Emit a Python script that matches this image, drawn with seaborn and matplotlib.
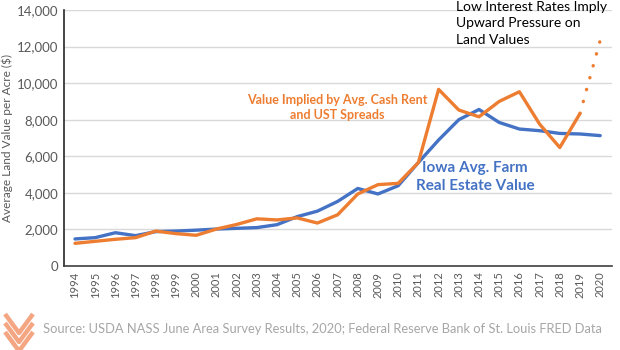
import numpy as np
import pandas as pd
import matplotlib
matplotlib.use("Agg")
import matplotlib.pyplot as plt
import seaborn as sns
from matplotlib.lines import Line2D

# data
years = list(range(1994, 2021))
iowa_value = [1480, 1550, 1820, 1660, 1880, 1910, 1960, 2020, 2060, 2100,
              2260, 2700, 3000, 3530, 4240, 3940, 4390, 5660, 6890, 8000,
              8560, 7850, 7490, 7400, 7250, 7220, 7130]
implied_years = list(range(1994, 2020))
implied_value = [1240, 1350, 1460, 1550, 1910, 1770, 1680, 2020, 2270, 2580,
                 2520, 2630, 2350, 2800, 3940, 4450, 4520, 5660, 9660, 8530,
                 8160, 9000, 9530, 7760, 6480, 8340]
proj_years = [2019, 2020]
proj_value = [8340, 12340]

df_iowa = pd.DataFrame({'year': years, 'value': iowa_value})
df_implied = pd.DataFrame({'year': implied_years, 'value': implied_value})
df_proj = pd.DataFrame({'year': proj_years, 'value': proj_value})

sns.set_style('white')
plt.rcParams['font.family'] = ['Lato', 'DejaVu Sans']

blue = '#4472C4'
orange = '#ED7D31'
gray = '#595959'

fig = plt.figure(figsize=(6.2, 3.5), dpi=100)
ax = fig.add_axes([64 / 620, 1 - 266 / 350, 548 / 620, 256 / 350])

sns.lineplot(data=df_iowa, x='year', y='value', color=blue, lw=2.4, ax=ax, zorder=3)
sns.lineplot(data=df_implied, x='year', y='value', color=orange, lw=2.4, ax=ax, zorder=4)
sns.lineplot(data=df_proj, x='year', y='value', color=orange, lw=2.4, ax=ax, zorder=4,
             linestyle=(0, (0.1, 3.6)), dash_capstyle='round')

ax.set_xlim(1994 - 11 / 20.2, 1994 + (612 - 75) / 20.2)
ax.set_ylim(0, 14000)
ax.set_yticks(range(0, 14001, 2000))
ax.set_yticklabels([f'{v:,}' for v in range(0, 14001, 2000)], color=gray, fontsize=9.5)
ax.set_xticks(years)
ax.set_xticklabels([str(y) for y in years], rotation=90, color=gray, fontsize=8)
ax.tick_params(axis='both', length=0, pad=4)
ax.grid(axis='y', color='#d9d9d9', lw=1)
ax.set_axisbelow(True)
for s in ['top', 'right']:
    ax.spines[s].set_visible(False)
ax.spines['left'].set_color('#262626')
ax.spines['left'].set_linewidth(1.2)
ax.spines['bottom'].set_color('#404040')
ax.spines['bottom'].set_linewidth(1.2)
ax.set_xlabel('')
ax.set_ylabel('Average Land Value per Acre ($)', color=gray, fontsize=8.6, labelpad=3)

ax.text(2007.0, 8650, 'Value Implied by Avg. Cash Rent\nand UST Spreads', color=orange,
        fontsize=9, fontweight='bold', ha='center', va='center', linespacing=1.3)
ax.text(2013.8, 4870, 'Iowa Avg. Farm\nReal Estate Value', color=blue,
        fontsize=11, fontweight='bold', ha='center', va='center', linespacing=1.3)
ax.text(2012.86, 14500, 'Low Interest Rates Imply\nUpward Pressure on\nLand Values', color='black',
        fontsize=10, ha='left', va='top', linespacing=1.45, clip_on=False)

fig.text(43 / 620, 1 - 329 / 350,
         'Source: USDA NASS June Area Survey Results, 2020; Federal Reserve Bank of St. Louis FRED Data',
         color='#a6a6a6', fontsize=9.3, ha='left', va='center')

# small chevron logo
logo_c = '#F4A582'
for k in range(3):
    yt = 1 - (314 + k * 9) / 350
    yb = 1 - (333 + k * 9) / 350
    fig.add_artist(Line2D([5 / 620, 19 / 620, 33 / 620], [yt, yb, yt],
                          color=logo_c, lw=3.2, solid_capstyle='butt'))

fig.savefig('out.png', dpi=100)
